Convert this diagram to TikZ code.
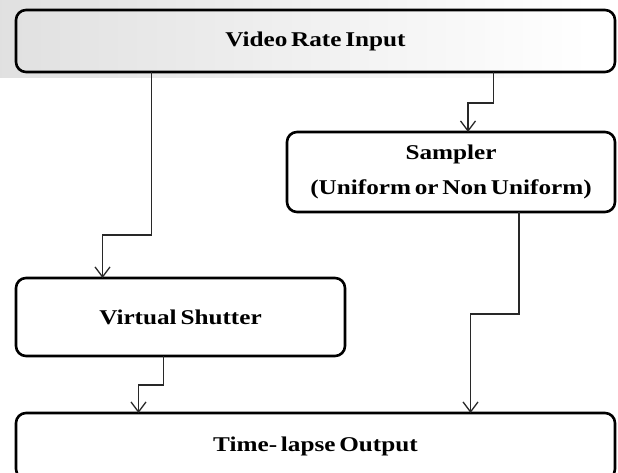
\documentclass[tikz,border=0pt]{standalone}
\usepackage{fontspec}
\newfontfamily\lblfont[FakeStretch=1.2,WordSpace=0.6]{Liberation Serif}
\usetikzlibrary{arrows.meta}

\tikzset{every picture/.style={line width=0.75pt}}

\begin{document}
\begin{tikzpicture}[x=1pt,y=-1pt,
  blockbox/.style={draw, line width=2.6pt, rounded corners=10pt, anchor=north west,
    inner sep=0pt, outer sep=0pt, align=center,
    font=\lblfont\bfseries\fontsize{21}{35}\selectfont},
  link/.style={draw={rgb,255:red,40;green,40;blue,40}, line width=1.3pt,
    -{Straight Barb[length=10pt,width=15pt,line width=1.3pt]}}]
\useasboundingbox (0,0) rectangle (618,473);
\clip (0,0) rectangle (618,473);

%Shading behind the top box
\shade [left color=black!12, right color=white] (0,0) rectangle (590,78);

%Shape: Rounded Rect
\node [blockbox, minimum width=599pt, minimum height=62pt] (input) at (16,10) {Video Rate Input};
%Shape: Rounded Rect
\node [blockbox, minimum width=328pt, minimum height=80pt] (sampler) at (287,132) {Sampler\\(Uniform or Non Uniform)};
%Shape: Rounded Rect
\node [blockbox, minimum width=329pt, minimum height=78pt] (shutter) at (16,278) {Virtual Shutter};
%Shape: Rounded Rect
\node [blockbox, minimum width=599pt, minimum height=66pt] (output) at (16,413) {Time- lapse Output};

%Connectors
\draw [link] ([xshift=-164pt]input.south) -- ++(0,163) -| ([xshift=-78pt]shutter.north);
\draw [link] ([xshift=178pt]input.south) -- ++(0,31) -| ([xshift=17pt]sampler.north);
\draw [link] ([xshift=68pt]sampler.south) -- ++(0,102) -| ([xshift=155pt]output.north);
\draw [link] ([xshift=-17pt]shutter.south) -- ++(0,29) -| ([xshift=-177pt]output.north);
\end{tikzpicture}
\end{document}
